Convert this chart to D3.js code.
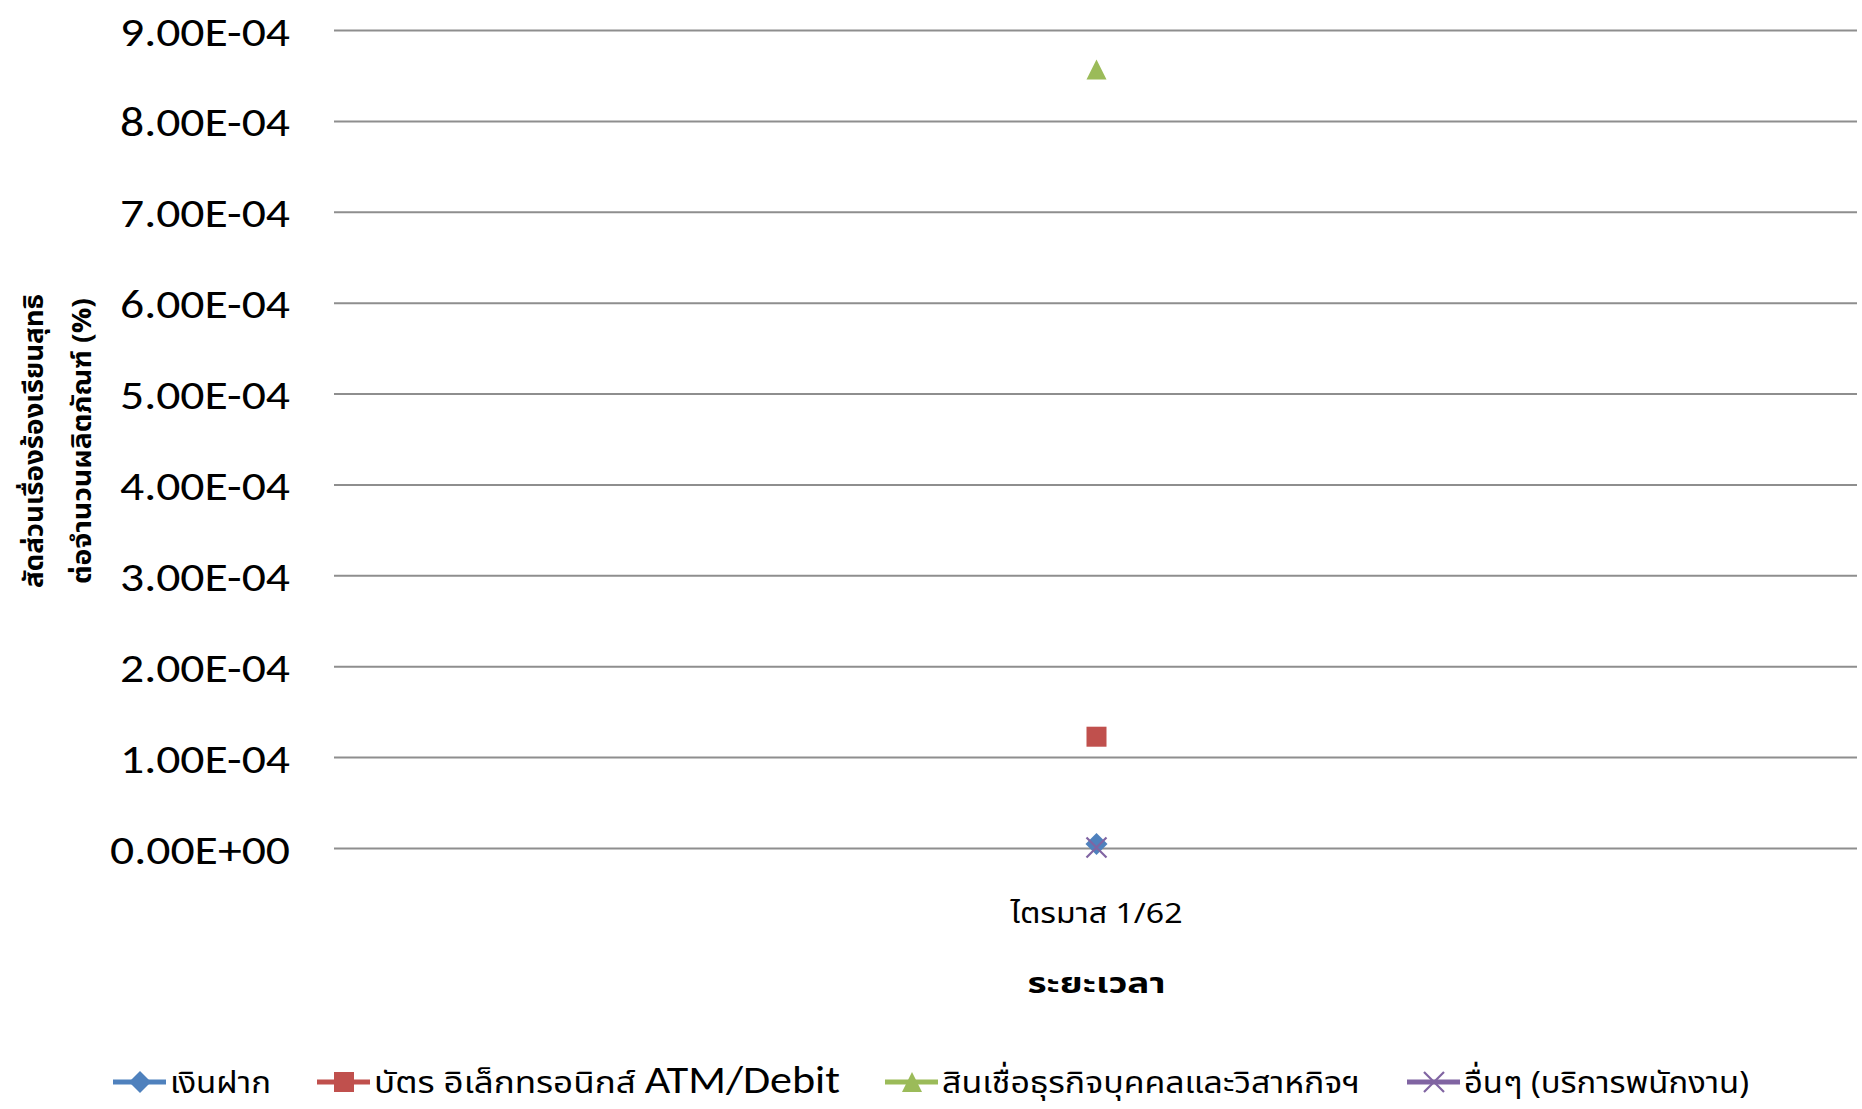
<!DOCTYPE html>
<html>
<head>
<meta charset="utf-8">
<script src="https://cdn.jsdelivr.net/npm/d3@7"></script>
<style>
  body { margin: 0; background: #fff; }
  svg { display: block; }
</style>
</head>
<body>
<div id="chart"></div>
<script>
// chart data
var categories = ["ไตรมาส 1/62"];
var seriesNames = ["เงินฝาก", "บัตร อิเล็กทรอนิกส์ ATM/Debit", "สินเชื่อธุรกิจบุคคลและวิสาหกิจฯ", "อื่นๆ (บริการพนักงาน)"];
var seriesValues = [
    [5.0e-6],
    [1.23e-4],
    [8.57e-4],
    [1.0e-6]
];
var yTicks = [0, 1e-4, 2e-4, 3e-4, 4e-4, 5e-4, 6e-4, 7e-4, 8e-4, 9e-4];
var yTickLabels = ["0.00E+00", "1.00E-04", "2.00E-04", "3.00E-04", "4.00E-04",
                   "5.00E-04", "6.00E-04", "7.00E-04", "8.00E-04", "9.00E-04"];
var yTitle = ["สัดส่วนเรื่องร้องเรียนสุทธิ", "ต่อจำนวนผลิตภัณฑ์ (%)"];
var xTitle = "ระยะเวลา";

(function() {

    var colors = ["#4f81bd", "#c0504d", "#9bbb59", "#8064a2"];
    var shapes = ["diamond", "square", "triangle", "cross"];

    var w = 1862, h = 1109;
    var plotLeft = 336, plotRight = 1857, plotTop = 30.5, plotBottom = 848.5;
    var thaiFont = "'Noto Sans Thai', 'Noto Sans Thai UI', 'Noto Sans', sans-serif";
    var latinFont = "Carlito, 'Open Sans', 'Noto Sans', sans-serif";

    var svg = d3.select("#chart").append("svg")
        .attr("width", w)
        .attr("height", h);

    var xScale = d3.scaleBand()
        .domain(categories)
        .range([plotLeft, plotRight]);

    var yScale = d3.scaleLinear()
        .domain([0, 9e-4])
        .range([plotBottom, plotTop]);

    function xCenter(c) { return xScale(c) + xScale.bandwidth() / 2; }

    // gridlines
    svg.append("g").selectAll("line")
        .data(yTicks)
        .enter().append("line")
        .attr("x1", plotLeft - 2)
        .attr("x2", plotRight)
        .attr("y1", function(d) { return yScale(d); })
        .attr("y2", function(d) { return yScale(d); })
        .style("stroke", "#8e8e8e")
        .style("stroke-width", 2);

    // y tick labels
    svg.append("g").selectAll("text")
        .data(yTicks)
        .enter().append("text")
        .attr("x", 290)
        .attr("y", function(d) { return yScale(d) + 15; })
        .attr("text-anchor", "end")
        .attr("textLength", function(d, i) { return i === 0 ? 180 : 170; })
        .attr("lengthAdjust", "spacingAndGlyphs")
        .style("font-family", latinFont)
        .style("font-size", "42px")
        .style("fill", "#000")
        .text(function(d, i) { return yTickLabels[i]; });

    // category label
    svg.append("text")
        .attr("x", xCenter(categories[0]))
        .attr("y", 923)
        .attr("text-anchor", "middle")
        .attr("textLength", 172)
        .attr("lengthAdjust", "spacingAndGlyphs")
        .style("font-family", thaiFont)
        .style("font-size", "28px")
        .style("fill", "#000")
        .text(categories[0]);

    // axis titles
    svg.append("text")
        .attr("x", xCenter(categories[0]))
        .attr("y", 993)
        .attr("text-anchor", "middle")
        .attr("textLength", 138)
        .attr("lengthAdjust", "spacingAndGlyphs")
        .style("font-family", thaiFont)
        .style("font-size", "28px")
        .style("font-weight", "bold")
        .style("fill", "#000")
        .text(xTitle);

    svg.append("g").selectAll("text")
        .data(yTitle)
        .enter().append("text")
        .attr("transform", function(d, i) {
            return "translate(" + (43 + i * 48) + "," + 441 + ") rotate(-90)";
        })
        .attr("text-anchor", "middle")
        .attr("textLength", function(d, i) { return i === 0 ? 294 : 286; })
        .attr("lengthAdjust", "spacingAndGlyphs")
        .style("font-family", thaiFont)
        .style("font-size", "26px")
        .style("font-weight", "bold")
        .style("fill", "#000")
        .text(function(d) { return d; });

    // marker drawing
    function drawMarker(g, shape, color, cx, cy) {
        if (shape === "diamond") {
            g.append("path")
                .attr("d", "M" + cx + "," + (cy - 11) + "L" + (cx + 11) + "," + cy +
                    "L" + cx + "," + (cy + 11) + "L" + (cx - 11) + "," + cy + "Z")
                .style("fill", color);
        } else if (shape === "square") {
            g.append("rect")
                .attr("x", cx - 10).attr("y", cy - 10)
                .attr("width", 20).attr("height", 20)
                .style("fill", color);
        } else if (shape === "triangle") {
            g.append("path")
                .attr("d", "M" + cx + "," + (cy - 10) + "L" + (cx + 10) + "," + (cy + 10) +
                    "L" + (cx - 10) + "," + (cy + 10) + "Z")
                .style("fill", color);
        } else {
            g.append("path")
                .attr("d", "M" + (cx - 10) + "," + (cy - 10) + "L" + (cx + 10) + "," + (cy + 10) +
                    "M" + (cx + 10) + "," + (cy - 10) + "L" + (cx - 10) + "," + (cy + 10))
                .style("stroke", color)
                .style("stroke-width", 2.2)
                .style("fill", "none");
        }
    }

    // points
    var pts = svg.append("g");
    seriesValues.forEach(function(vals, s) {
        vals.forEach(function(v, i) {
            drawMarker(pts, shapes[s], colors[s], xCenter(categories[i]), yScale(v));
        });
    });

    // legend
    var legendX = [113, 317, 885, 1407];
    var legendW = [101, 466, 418, 285];
    var legendY = 1082;
    var legend = svg.append("g");
    seriesNames.forEach(function(name, s) {
        var lx = legendX[s];
        legend.append("line")
            .attr("x1", lx).attr("x2", lx + 53)
            .attr("y1", legendY).attr("y2", legendY)
            .style("stroke", colors[s])
            .style("stroke-width", 5);
        drawMarker(legend, shapes[s], colors[s], lx + 27, legendY);
        var t = legend.append("text")
            .attr("x", lx + 57)
            .attr("y", legendY + 11)
            .attr("textLength", legendW[s])
            .attr("lengthAdjust", "spacingAndGlyphs")
            .style("font-family", thaiFont)
            .style("font-size", "31px")
            .style("fill", "#000");
        if (name.indexOf("ATM") >= 0) {
            t.append("tspan").text("บัตร อิเล็กทรอนิกส์ ");
            t.append("tspan").style("font-family", latinFont).style("font-size", "39px").text("ATM/Debit");
        } else {
            t.text(name);
        }
    });

})();
</script>
</body>
</html>
